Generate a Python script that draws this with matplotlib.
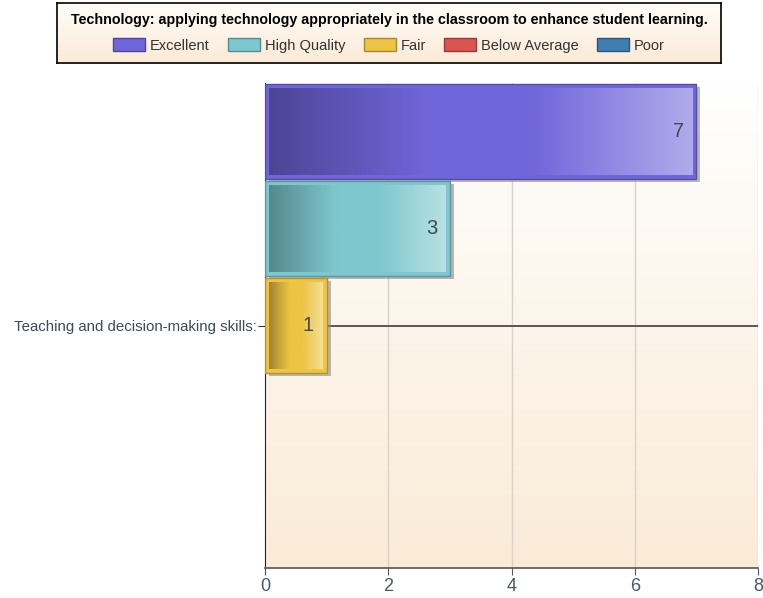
import numpy as np
import matplotlib
matplotlib.use("Agg")
import matplotlib.pyplot as plt
from matplotlib.patches import Rectangle, Patch
from matplotlib.colors import to_rgb, LinearSegmentedColormap

title = "Technology: applying technology appropriately in the classroom to enhance student learning."
category = "Teaching and decision-making skills:"
series = ["Excellent", "High Quality", "Fair", "Below Average", "Poor"]
values = [7, 3, 1, 0, 0]
colors = ["#7066DB", "#7DC8CE", "#EDC444", "#D9534F", "#3E7EB0"]
xticks = [0, 2, 4, 6, 8]

plt.rcParams['font.family'] = ['Liberation Sans', 'DejaVu Sans']

W, H = 763, 598
fig = plt.figure(figsize=(W / 100, H / 100), dpi=100)
fig.patch.set_facecolor("white")
ax = fig.add_axes([265 / W, 1 - 568 / H, 493 / W, 485 / H])

n = len(series)
ax.set_xlim(0, 8)
ax.set_ylim(n / 2, -n / 2)

# background gradient
bg = LinearSegmentedColormap.from_list("bg", ["#FFFFFF", "#FAEBD7"])
grad = np.linspace(0, 1, 256).reshape(-1, 1)
ax.imshow(grad, cmap=bg, aspect="auto", extent=[0, 1, 0, 1],
          transform=ax.transAxes, origin="upper", zorder=0)

# gridlines
for t in xticks[1:]:
    ax.axvline(t, color="#D8D2CC", lw=1, zorder=1)
ax.axhline(0, color="#5A5550", lw=1.4, zorder=1)

# pixel size in data units
px_x = 8 / 493
px_y = n / 485


def shade(c, f):
    r = np.array(to_rgb(c))
    return tuple(r * f)


def tint(c, f):
    r = np.array(to_rgb(c))
    return tuple(r + (1 - r) * f)


offsets = np.arange(n) - (n - 1) / 2
for i, (name, v, c) in enumerate(zip(series, values, colors)):
    if v <= 0:
        continue
    y0 = offsets[i] - 0.5
    # shadow
    ax.add_patch(Rectangle((4 * px_x, y0 + 4 * px_y), v, 1 - 2 * px_y,
                           facecolor="#8A8A8A", alpha=0.6, edgecolor="none", zorder=2))
    # outer frame
    ax.add_patch(Rectangle((0, y0 + px_y), v, 1 - 2 * px_y, facecolor=c,
                           edgecolor=shade(c, 0.75), lw=1, zorder=3))
    # inner gradient
    cmap = LinearSegmentedColormap.from_list(
        "g%d" % i,
        [(0, shade(c, 0.68)), (0.38, to_rgb(c)), (0.62, to_rgb(c)), (1, tint(c, 0.45))])
    g = np.linspace(0, 1, 256).reshape(1, -1)
    ax.imshow(g, cmap=cmap, aspect="auto",
              extent=[4 * px_x, v - 4 * px_x, y0 + 1 - 5 * px_y, y0 + 5 * px_y],
              origin="upper", zorder=4, interpolation="bilinear")
    ax.annotate(str(v), xy=(v, offsets[i]), xytext=(-9, 0), textcoords="offset points",
                ha="right", va="center", fontsize=14.5, color="#3C4A58", zorder=5)

ax.set_xticks(xticks)
ax.set_xticklabels([str(t) for t in xticks], fontsize=13, color="#4A5868")
ax.set_yticks([0])
ax.set_yticklabels([category], fontsize=10.8, color="#3C4A5C")
ax.tick_params(axis="x", length=5, color="#555555", pad=2)
ax.tick_params(axis="y", length=5, color="#333333", pad=1)
for s in ["top", "right"]:
    ax.spines[s].set_visible(False)
ax.spines["left"].set_color("#222222")
ax.spines["bottom"].set_color("#555555")
ax.spines["bottom"].set_linewidth(1.2)

# legend box with gradient
lax = fig.add_axes([57 / W, 1 - 63 / H, 664 / W, 60 / H])
lbg = LinearSegmentedColormap.from_list("lbg", ["#FFFDFA", "#FBEAD6"])
lax.imshow(grad, cmap=lbg, aspect="auto", extent=[0, 1, 0, 1], origin="upper")
lax.set_xlim(0, 1)
lax.set_ylim(0, 1)
lax.set_xticks([])
lax.set_yticks([])
for s in lax.spines.values():
    s.set_color("black")
    s.set_linewidth(1.2)

fs = 10.5
handles = [Patch(facecolor=c, edgecolor=shade(c, 0.7), lw=1) for c in colors]
leg = fig.legend(handles, series, loc="upper center", ncol=5,
                 bbox_to_anchor=(389 / W, 1 - 4 / H), borderaxespad=0,
                 frameon=False,
                 title=title, title_fontproperties={"weight": "bold", "size": 10.3},
                 prop={"size": fs},
                 handlelength=2.2, handleheight=1.0, handletextpad=0.35, columnspacing=1.23,
                 borderpad=0.6, labelspacing=0.8)
for t in leg.get_texts():
    t.set_color("#333333")

fig.savefig("out.png", dpi=100)
